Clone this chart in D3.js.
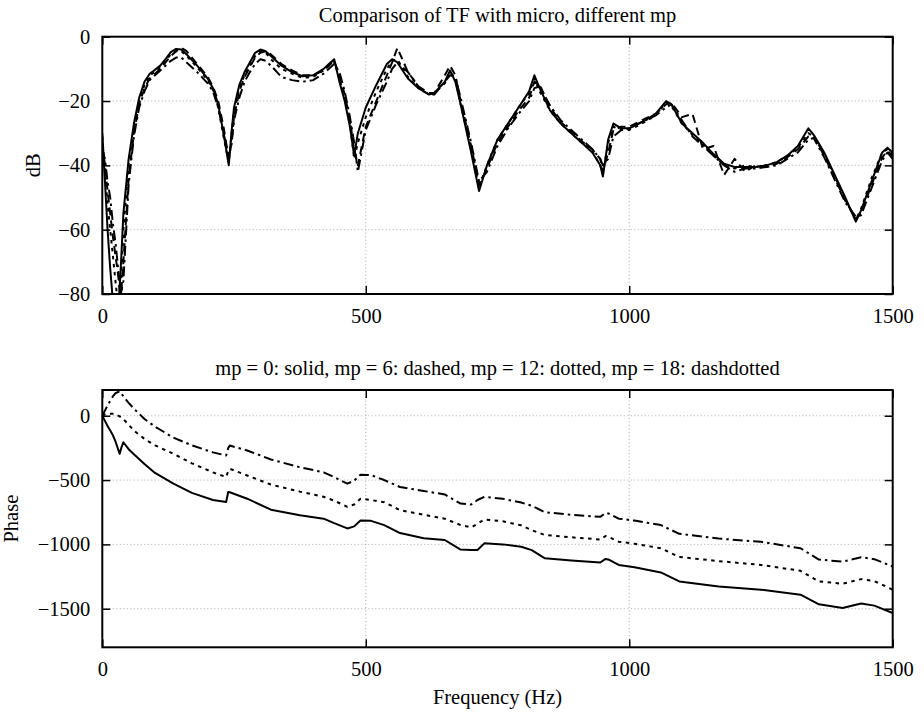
<html>
<head>
<meta charset="utf-8">
<script src="https://d3js.org/d3.v7.min.js"></script>
<style>
  body { margin: 0; background-color: white; }
  text { font-family: "Liberation Serif", "DejaVu Serif", serif; font-size: 20.5px; fill: black; }
</style>
</head>
<body>
<script>
// *** data
var freq = [0,5,10,15,20,25,30,35,40,50,60,70,80,90,100,110,120,130,140,150,160,180,200,210,220,230,240,245,250,
  260,270,280,290,300,310,320,340,360,380,400,420,430,440,450,460,470,478,485,500,520,540,550,560,580,600,620,630,650,660,670,680,
  700,715,730,750,770,790,810,820,830,850,870,890,910,930,945,950,960,970,985,1000,1030,1050,1070,1080,1100,1120,1140,1160,1180,
  1200,1220,1240,1260,1280,1300,1320,1340,1350,1370,1390,1410,1430,1440,1460,1480,1490,1500];

var magSolid = [-30,-45,-60,-72,-82,-90,-86,-72,-55,-38,-27,-19,-14,-11.5,-10.3,-9,-7,-4.8,-3.8,-4,-5.5,-9,-13,-16,-21,-30,-40,-30,-22,
  -15,-11,-8,-5,-4,-4.5,-6,-9,-11,-12.3,-12,-10,-8.5,-7,-14,-20,-28,-37,-30,-22,-15,-8.5,-7,-8,-13,-16,-18,-17.5,-14,-10.5,-14,-21,
  -36,-48,-40,-32,-27,-22,-17,-12,-16,-23,-27,-30,-33,-36,-40,-43.5,-32,-27,-28.5,-28.5,-26,-24,-20,-21,-27,-30,-33,-36.5,-39.5,
  -40.5,-40.5,-40.5,-40,-39,-37,-34,-28.5,-30.5,-36,-43,-50,-57.5,-54,-45,-36,-34.5,-36];

var magDashed = [-33,-40,-48,-55,-62,-68,-74,-82,-70,-44,-30,-21,-16,-13,-11.5,-10,-8,-6,-4.5,-3.5,-4.5,-8.5,-12.5,-15.5,-20,-28,-38,-33,-25,
  -17,-12.5,-9.5,-6.5,-5,-4.5,-5.5,-8.5,-10.5,-12,-12,-10.5,-9,-7.5,-12,-18,-26,-35,-40,-28,-20,-12,-8,-3.5,-11,-15.5,-17.5,-17.5,-12,-9,-12,-20,
  -34,-46,-41,-33,-28,-23,-19,-14,-15,-22,-26.5,-29.5,-32.5,-35,-38,-42,-36,-29,-28,-28,-25.5,-24,-21,-20.5,-25,-24,-35,-34,-43,
  -38,-42,-40,-40.5,-39.5,-37.5,-35,-31,-31,-37,-44,-51,-56.5,-55,-46,-37.5,-35.5,-37];

var magDotted = [-31,-42,-52,-60,-68,-76,-84,-78,-60,-40,-28,-20,-15,-12,-11,-9.5,-7.5,-5.5,-4.5,-4.5,-6,-9.5,-13.5,-16.5,-22,-31,-39,-31,-23,
  -16,-12,-9,-6,-4.5,-5,-7,-10,-11.5,-12.8,-12.5,-10.5,-9,-7.5,-13,-19,-27,-38,-33,-25,-17,-10,-7.5,-7,-12.5,-16,-18,-17.5,-14.5,-11,-13,-21,
  -35,-47,-40,-32,-27,-22,-17.5,-13,-17,-23,-27,-30,-33,-35.5,-40,-42.5,-33,-28,-29,-29,-26.5,-24.5,-20.5,-21.5,-27,-30.5,-33.5,-37,-40,
  -41,-40,-40.5,-40,-39,-37,-34.5,-30,-31,-36.5,-43.5,-50.5,-57,-53.5,-44,-36,-35,-36.5];

var magDashDot = [-35,-38,-45,-50,-58,-64,-72,-80,-76,-46,-31,-22,-17,-13.5,-12,-10.5,-9,-7.5,-6.5,-6.5,-8,-11,-14.5,-17,-22,-30,-37,-34,-26,
  -19,-14,-11,-8.5,-7,-7.5,-9,-12.5,-13.5,-14,-13.5,-11.5,-10,-8.5,-11,-17,-25,-33,-42,-29,-21,-14,-10,-8,-11,-15.5,-18,-18,-14,-12,-12.5,-19,
  -33,-45,-42,-34,-28.5,-24,-20,-16,-15.5,-21.5,-26,-29,-32,-35,-38,-40,-38,-31,-29,-28.5,-26,-24.5,-22,-21,-26,-31,-34,-37,-40,
  -42,-41,-41,-40.5,-40,-38,-36,-32,-31.5,-37.5,-44.5,-51.5,-56,-55.5,-47,-38.5,-36,-38];

var phaseFreq = [0,5,10,20,25,33,36,40,50,60,80,100,135,170,210,235,239,242,275,320,375,420,440,465,478,490,510,535,565,610,650,680,
  700,712,725,760,795,815,840,890,945,955,962,980,1010,1060,1095,1170,1250,1325,1360,1405,1440,1465,1500];

var phaseSolid = [0,-40,-80,-150,-200,-296,-250,-206,-260,-300,-375,-445,-528,-600,-655,-670,-593,-595,-645,-730,-773,-800,-835,-876,-860,-815,-817,-850,-912,-953,-966,-1040,
  -1043,-1043,-992,-1000,-1018,-1045,-1108,-1126,-1141,-1113,-1120,-1160,-1177,-1218,-1288,-1327,-1352,-1391,-1466,-1494,-1460,-1476,-1533];

var phaseDotted = [0,10,15,15,10,-5,-15,-26,-70,-116,-180,-230,-296,-370,-440,-477,-430,-412,-465,-535,-590,-630,-660,-708,-690,-645,-655,-672,-734,-770,-800,-850,
  -868,-840,-806,-820,-852,-890,-927,-945,-962,-935,-945,-979,-995,-1030,-1098,-1130,-1160,-1205,-1288,-1306,-1270,-1285,-1352];

var phaseDashDot = [0,40,80,150,175,190,175,150,100,55,-25,-85,-170,-230,-285,-309,-250,-232,-270,-340,-400,-440,-477,-528,-505,-458,-462,-500,-554,-585,-612,-683,
  -690,-655,-631,-645,-675,-700,-750,-770,-786,-755,-762,-800,-815,-850,-918,-955,-980,-1030,-1118,-1134,-1100,-1115,-1172];

var xTicks = [0, 500, 1000, 1500];
var magTicks = [-80, -60, -40, -20, 0];
var phaseTicks = [-1500, -1000, -500, 0];

// *** layout
var left = 102.3, right = 892.7;
var svg = d3.select("body").append("svg")
    .attr("width", 924)
    .attr("height", 714);

var xScale = d3.scaleLinear().domain([0, 1500]).range([left, right]);
var styles = { solid: null, dashed: "8,5", dotted: "3.5,4.5", dashdot: "10,4,2.5,4" };

function panel(id, top, bottom, domain, yTicks, series, xs, title, ylabel, ylabelX){
    var yScale = d3.scaleLinear().domain(domain).range([bottom, top]);
    var g = svg.append("g");

    // grid
    g.selectAll(".hgrid").data(yTicks.filter(function(t){ return t > domain[0] && t < domain[1]; }))
      .enter().append("line")
        .attr("x1", left).attr("x2", right)
        .attr("y1", function(d){ return yScale(d); })
        .attr("y2", function(d){ return yScale(d); })
        .attr("stroke", "#888").attr("stroke-width", 0.7).attr("stroke-dasharray", "1,2.5");
    g.selectAll(".vgrid").data([500, 1000])
      .enter().append("line")
        .attr("y1", top).attr("y2", bottom)
        .attr("x1", function(d){ return xScale(d); })
        .attr("x2", function(d){ return xScale(d); })
        .attr("stroke", "#888").attr("stroke-width", 0.7).attr("stroke-dasharray", "1,2.5");

    // curves
    svg.append("clipPath").attr("id", id)
      .append("rect").attr("x", left).attr("y", top).attr("width", right - left).attr("height", bottom - top);
    var line = d3.line()
        .x(function(d, i){ return xScale(xs[i]); })
        .y(function(d){ return yScale(d); });
    series.forEach(function(s){
        g.append("path")
          .attr("clip-path", "url(#" + id + ")")
          .attr("fill", "none")
          .attr("stroke", "black")
          .attr("stroke-width", 2)
          .attr("stroke-linejoin", "round")
          .attr("stroke-dasharray", styles[s.style])
          .attr("d", line(s.values));
    });

    // axes, ticks pointing inward
    var xb = g.append("g").attr("transform", "translate(0," + bottom + ")")
        .call(d3.axisBottom(xScale).tickValues(xTicks).tickSize(-8).tickPadding(14).tickFormat(d3.format("d")));
    var xt = g.append("g").attr("transform", "translate(0," + top + ")")
        .call(d3.axisTop(xScale).tickValues(xTicks).tickSize(-8).tickFormat(""));
    var yl = g.append("g").attr("transform", "translate(" + left + ",0)")
        .call(d3.axisLeft(yScale).tickValues(yTicks).tickSize(-8).tickPadding(12).tickFormat(d3.format("d")));
    var yr = g.append("g").attr("transform", "translate(" + right + ",0)")
        .call(d3.axisRight(yScale).tickValues(yTicks).tickSize(-8).tickFormat(""));
    [xb, xt, yl, yr].forEach(function(a){
        a.select(".domain").remove();
        a.selectAll("line").attr("stroke", "black").attr("stroke-width", 1.5);
        a.selectAll("text").attr("font-family", null).attr("font-size", null).attr("fill", "black");
    });

    g.append("rect")
      .attr("x", left).attr("y", top).attr("width", right - left).attr("height", bottom - top)
      .attr("fill", "none").attr("stroke", "black").attr("stroke-width", 2);

    g.append("text")
      .attr("x", (left + right) / 2).attr("y", top - 15)
      .attr("text-anchor", "middle")
      .text(title);
    g.append("text")
      .attr("transform", "translate(" + ylabelX + "," + ((top + bottom) / 2) + ") rotate(-90)")
      .attr("text-anchor", "middle")
      .text(ylabel);
}

panel("clipMag", 36.7, 294, [-80, 0], magTicks, [
    { style: "dashdot", values: magDashDot },
    { style: "dotted", values: magDotted },
    { style: "dashed", values: magDashed },
    { style: "solid", values: magSolid }
], freq, "Comparison of TF with micro, different mp", "dB", 39.5);

// mp = 6 (dashed) lies under the others in the phase plot
panel("clipPhase", 390, 647.3, [-1800, 200], phaseTicks, [
    { style: "dashdot", values: phaseDashDot },
    { style: "dotted", values: phaseDotted },
    { style: "solid", values: phaseSolid }
], phaseFreq, "mp = 0: solid, mp = 6: dashed, mp = 12: dotted, mp = 18: dashdotted", "Phase", 18);

svg.append("text")
  .attr("x", (left + right) / 2).attr("y", 704)
  .attr("text-anchor", "middle")
  .text("Frequency (Hz)");
</script>
</body>
</html>
